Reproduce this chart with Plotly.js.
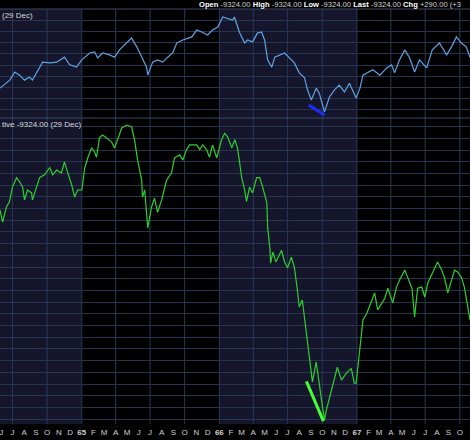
<!DOCTYPE html>
<html><head><meta charset="utf-8">
<script src="https://cdn.plot.ly/plotly-3.0.1.min.js"></script>
<style>html,body{margin:0;padding:0;background:#000;}#chart{width:470px;height:440px;}</style>
</head><body><div id="chart"></div>
<script>
const blueDates = ["1964-05-29","1964-06-24","1964-07-07","1964-07-20","1964-08-02","1964-08-15","1964-08-23","1964-09-19","1964-10-08","1964-10-26","1964-11-16","1964-11-30","1964-12-18","1965-01-01","1965-01-22","1965-02-04","1965-02-12","1965-02-25","1965-03-16","1965-03-29","1965-04-11","1965-04-30","1965-05-13","1965-05-27","1965-06-09","1965-06-22","1965-06-25","1965-07-08","1965-07-21","1965-08-04","1965-08-17","1965-08-30","1965-09-10","1965-09-26","1965-10-20","1965-11-02","1965-11-15","1965-12-01","1965-12-14","1965-12-28","1966-01-10","1966-01-23","1966-02-05","1966-02-10","1966-02-23","1966-03-09","1966-03-17","1966-03-30","1966-04-12","1966-04-23","1966-05-01","1966-05-09","1966-05-20","1966-05-28","1966-06-10","1966-06-23","1966-07-06","1966-07-19","1966-08-01","1966-08-15","1966-08-23","1966-09-02","1966-09-15","1966-09-23","1966-10-07","1966-10-20","1966-11-02","1966-11-15","1966-11-29","1966-12-12","1966-12-30","1967-01-09","1967-01-17","1967-01-30","1967-02-12","1967-03-03","1967-03-21","1967-04-03","1967-04-11","1967-04-24","1967-05-08","1967-05-21","1967-06-03","1967-06-16","1967-07-05","1967-07-20","1967-08-08","1967-08-27","1967-09-09","1967-09-22","1967-10-05","1967-10-18","1967-10-28"];
const blueValues = [809,830,851,843,830,838,830,877,875,877,890,870,864,883,901,904,888,901,896,890,909,927,940,917,890,864,843,877,883,877,890,901,927,935,943,961,956,948,961,969,995,992,987,995,956,927,935,930,953,956,935,883,864,890,896,901,888,875,849,836,804,778,809,796,747,786,804,817,799,822,783,809,843,851,857,843,862,870,849,883,909,888,851,883,862,909,927,896,917,943,927,917,890];

const greenDates = ["1964-05-29","1964-06-05","1964-06-15","1964-06-23","1964-07-01","1964-07-12","1964-07-20","1964-07-28","1964-08-02","1964-08-10","1964-08-21","1964-08-23","1964-09-03","1964-09-11","1964-09-24","1964-10-08","1964-10-16","1964-10-26","1964-11-08","1964-11-16","1964-11-24","1964-12-05","1964-12-13","1964-12-21","1965-01-01","1965-01-09","1965-01-17","1965-01-27","1965-02-04","1965-02-09","1965-02-17","1965-02-25","1965-03-08","1965-03-21","1965-03-29","1965-04-06","1965-04-17","1965-04-30","1965-05-13","1965-05-21","1965-05-29","1965-06-09","1965-06-11","1965-06-17","1965-06-22","1965-06-25","1965-07-05","1965-07-13","1965-07-21","1965-08-01","1965-08-14","1965-08-27","1965-09-04","1965-09-18","1965-09-26","1965-10-06","1965-10-14","1965-11-02","1965-11-10","1965-11-18","1965-11-28","1965-12-06","1965-12-14","1965-12-25","1966-01-07","1966-01-15","1966-01-23","1966-02-03","1966-02-11","1966-02-18","1966-02-24","1966-03-01","1966-03-09","1966-03-14","1966-03-22","1966-03-30","1966-04-10","1966-04-18","1966-04-26","1966-05-07","1966-05-09","1966-05-15","1966-05-17","1966-05-23","1966-05-31","1966-06-15","1966-06-23","1966-07-01","1966-07-11","1966-07-19","1966-07-27","1966-08-01","1966-08-09","1966-08-20","1966-08-28","1966-09-05","1966-09-15","1966-09-23","1966-10-01","1966-10-07","1966-10-12","1966-10-20","1966-10-28","1966-11-10","1966-11-21","1966-12-04","1966-12-17","1966-12-25","1966-12-30","1967-01-09","1967-01-17","1967-01-27","1967-02-09","1967-02-17","1967-02-25","1967-03-08","1967-03-16","1967-03-24","1967-04-03","1967-04-06","1967-04-16","1967-04-24","1967-05-08","1967-05-16","1967-05-27","1967-06-03","1967-06-11","1967-06-22","1967-06-30","1967-07-08","1967-07-20","1967-08-03","1967-08-14","1967-08-22","1967-08-30","1967-09-09","1967-09-17","1967-09-25","1967-10-05","1967-10-13","1967-10-21","1967-10-28"];
const greenValues = [85.5,83.4,86.0,86.9,89.4,91.0,90.3,89.4,87.2,88.9,88.4,87.2,89.4,91.0,91.5,92.7,91.5,92.3,91.8,93.7,92.0,89.8,87.7,88.9,88.9,92.7,94.4,96.1,95.4,94.5,97.8,98.3,97.8,97.1,96.1,97.5,99.5,100.0,99.7,97.5,94.0,90.6,87.7,88.9,85.5,82.4,86.0,87.5,85.1,87.2,90.6,91.8,94.4,94.9,94.0,95.8,96.6,96.6,95.8,96.6,95.8,94.5,96.6,94.4,97.5,98.6,98.0,96.1,97.5,96.1,93.5,91.1,88.9,86.9,89.4,88.4,91.0,91.0,89.4,86.7,82.6,79.0,76.4,78.3,76.6,78.6,76.6,75.6,77.4,75.7,71.8,68.9,70.1,64.4,59.8,56.1,59.5,55.5,52.1,49.6,51.3,53.3,55.2,58.6,56.4,57.6,58.4,55.9,55.9,61.5,66.7,67.8,70.1,71.3,68.4,69.7,70.4,72.1,70.4,69.6,72.3,73.5,75.2,74.0,72.1,67.2,72.1,72.3,70.6,73.0,74.7,76.6,75.2,73.8,71.3,73.5,75.2,74.9,74.0,72.3,68.9,66.7];

const blueTrendDates = ["1966-08-26","1966-10-07"];
const blueTrendValues = [765, 739];
const greenTrendDates = ["1966-08-20","1966-10-04"];
const greenTrendValues = [56.2, 49.4];

const monthLabels = ["J","J","A","S","O","N","D","65","F","M","A","M","J","J","A","S","O","N","D","66","F","M","A","M","J","J","A","S","O","N","D","67","F","M","A","M","J","J","A","S","O"];
const firstMonthIndex = 5; // June 1964 (0-based month)
const firstYear = 1964;
const quarterLines = ["1964-07-01","1964-10-01","1965-01-01","1965-04-01","1965-07-01","1965-10-01","1966-01-01","1966-04-01","1966-07-01","1966-10-01","1967-01-01","1967-04-01","1967-07-01","1967-10-01"];
const navyBands = [["1964-05-01","1965-01-01"],["1966-01-01","1967-01-01"]];
const xRange = ["1964-05-29","1967-10-28"];

const headerLabels = ["Open","High","Low","Last","Chg"];
const headerValues = ["-9324.00","-9324.00","-9324.00","-9324.00","+290.00 (+3"];
const topLegend = "(29 Dec)";
const bottomLegend = "tive -9324.00 (29 Dec)";

const pad = n => String(n).padStart(2, '0');
const tickVals = monthLabels.map((_, i) => {
  const m = firstMonthIndex + i;
  return (firstYear + Math.floor(m / 12)) + '-' + pad(m % 12 + 1) + '-01';
});
const tickText = monthLabels.map(t => /\d/.test(t) ? '<b>' + t + '</b>' : t);

const font = 'Liberation Sans, Arial, sans-serif';
const gridCol = '#27344f';
const split = 0.7373;

const shapes = [];
navyBands.forEach(b => shapes.push({type:'rect', xref:'x', yref:'paper', x0:b[0], x1:b[1], y0:0, y1:1, fillcolor:'#15152c', line:{width:0}, layer:'below'}));
quarterLines.forEach(d => shapes.push({type:'line', xref:'x', yref:'paper', x0:d, x1:d, y0:0, y1:1, line:{color:'#2a3858', width:1}, layer:'below'}));
shapes.push({type:'line', xref:'paper', yref:'paper', x0:0, x1:1, y0:split, y1:split, line:{color:'#3a4866', width:1}});
shapes.push({type:'line', xref:'paper', yref:'paper', x0:0, x1:1, y0:1, y1:1, line:{color:'#3a4866', width:1}});

const headerText = headerLabels.map((l, i) => '<b>' + l + '</b> <span style="color:#d4d4d4">' + headerValues[i] + '</span>').join(' ');

const traces = [
  {x: blueDates, y: blueValues, type:'scatter', mode:'lines', xaxis:'x', yaxis:'y', line:{color:'#5ea4e4', width:1.2}, hoverinfo:'skip'},
  {x: blueTrendDates, y: blueTrendValues, type:'scatter', mode:'lines', xaxis:'x', yaxis:'y', line:{color:'#1c2cff', width:3}, hoverinfo:'skip'},
  {x: greenDates, y: greenValues, type:'scatter', mode:'lines', xaxis:'x', yaxis:'y2', line:{color:'#2fcf2f', width:1.2}, hoverinfo:'skip'},
  {x: greenTrendDates, y: greenTrendValues, type:'scatter', mode:'lines', xaxis:'x', yaxis:'y2', line:{color:'#44ff33', width:3}, hoverinfo:'skip'}
];

const layout = {
  width:470, height:440,
  margin:{l:0, r:0, t:9, b:16, pad:0},
  paper_bgcolor:'#000', plot_bgcolor:'rgba(0,0,0,0)',
  showlegend:false,
  xaxis:{type:'date', range:xRange, anchor:'y2', tickmode:'array', tickvals:tickVals, ticktext:tickText,
         showgrid:false, zeroline:false, showline:false, ticks:'', tickangle:0, ticklabeloverflow:'allow',
         ticklabelstandoff:2,
         tickfont:{family:font, size:8, color:'#d0d0d0'}, fixedrange:true},
  yaxis:{domain:[split, 1], range:[730.9, 1016], tickmode:'linear', tick0:985.4, dtick:29.0,
         showticklabels:false, showgrid:true, gridcolor:gridCol, gridwidth:1, zeroline:false, showline:false, fixedrange:true},
  yaxis2:{domain:[0, split], range:[48.9, 101.2], tickmode:'linear', tick0:95.73, dtick:2,
         showticklabels:false, showgrid:true, gridcolor:gridCol, gridwidth:1, zeroline:false, showline:false, fixedrange:true},
  shapes: shapes,
  annotations:[
    {xref:'paper', yref:'paper', x:197/470, y:1 + 4.5/415, xanchor:'left', yanchor:'middle', text:headerText, showarrow:false,
     font:{family:font, size:7.6, color:'#ffffff'}},
    {xref:'paper', yref:'paper', x:0, y:1 - 6/415, xanchor:'left', yanchor:'middle', text:topLegend, showarrow:false,
     font:{family:font, size:8, color:'#d8d8d8'}},
    {xref:'paper', yref:'paper', x:0, y:(424-124)/415, xanchor:'left', yanchor:'middle', text:bottomLegend, showarrow:false,
     font:{family:font, size:8, color:'#d8d8d8'}}
  ]
};

Plotly.newPlot('chart', traces, layout, {staticPlot:true, displayModeBar:false});
</script>
</body></html>
